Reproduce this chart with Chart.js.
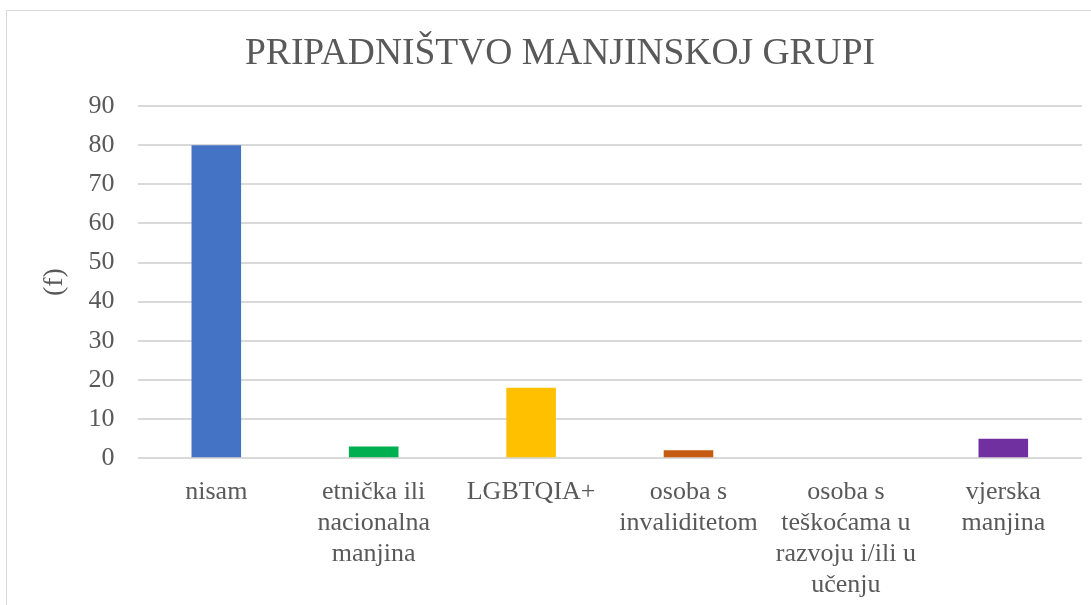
<!DOCTYPE html>
<html>
<head>
<meta charset="utf-8">
<script src="https://cdn.jsdelivr.net/npm/chart.js@4/dist/chart.umd.min.js"></script>
<style>
  html, body { margin: 0; padding: 0; background: #fff; }
  #okvir { position: absolute; left: 6px; top: 10px; width: 1100px; height: 620px; border: 1px solid #d9d9d9; }
  #wrap { position: absolute; left: 0; top: 0; width: 1091px; height: 605px; }
</style>
</head>
<body>
<div id="okvir"></div>
<div id="wrap"><canvas id="myChart"></canvas></div>
<script>
// podaci
const kategorije = [
    'nisam',
    ['etnička ili', 'nacionalna', 'manjina'],
    'LGBTQIA+',
    ['osoba s', 'invaliditetom'],
    ['osoba s', 'teškoćama u', 'razvoju i/ili u', 'učenju'],
    ['vjerska', 'manjina']
];
const frekvencije = [80, 3, 18, 2, 0, 5];
const boje = ['#4472c4', '#00b050', '#ffc000', '#c55a11', '#7f7f7f', '#7030a0'];
const yTicks = [0, 10, 20, 30, 40, 50, 60, 70, 80, 90];

const font = "'Liberation Serif', 'Times New Roman', serif";
const siva = '#595959';

const grafica = document.querySelector('#myChart');
const myChart = new Chart(grafica, {
    type: 'bar',
    data: {
        labels: kategorije,
        datasets: [{
            label: '(f)',
            data: frekvencije,
            backgroundColor: boje,
            borderWidth: 0,
            categoryPercentage: 1,
            barPercentage: 0.315
        }]
    },
    options: {
        responsive: true,
        maintainAspectRatio: false,
        animation: false,
        layout: { padding: { left: 38, right: 9, top: 32, bottom: -6 } },
        plugins: {
            legend: { display: false },
            tooltip: { enabled: false },
            title: {
                display: true,
                text: 'PRIPADNIŠTVO MANJINSKOJ GRUPI',
                color: siva,
                font: { family: font, size: 37.5, weight: 'normal' },
                padding: { top: 0, bottom: 29 }
            }
        },
        scales: {
            x: {
                grid: { display: false },
                border: { display: false },
                ticks: {
                    color: siva,
                    font: { family: font, size: 26, lineHeight: 1.2 },
                    maxRotation: 0,
                    autoSkip: false,
                    padding: 10
                }
            },
            y: {
                min: 0,
                max: 90,
                afterBuildTicks: function (axis) {
                    axis.ticks = yTicks.map(v => ({ value: v }));
                },
                grid: { color: '#d9d9d9', lineWidth: 2, drawTicks: false },
                border: { display: false },
                ticks: {
                    color: siva,
                    font: { family: font, size: 26 },
                    padding: 23
                },
                title: {
                    display: true,
                    text: '(f)',
                    color: siva,
                    font: { family: font, size: 28 },
                    padding: { top: 0, bottom: -6 }
                }
            }
        }
    }
});
</script>
</body>
</html>
